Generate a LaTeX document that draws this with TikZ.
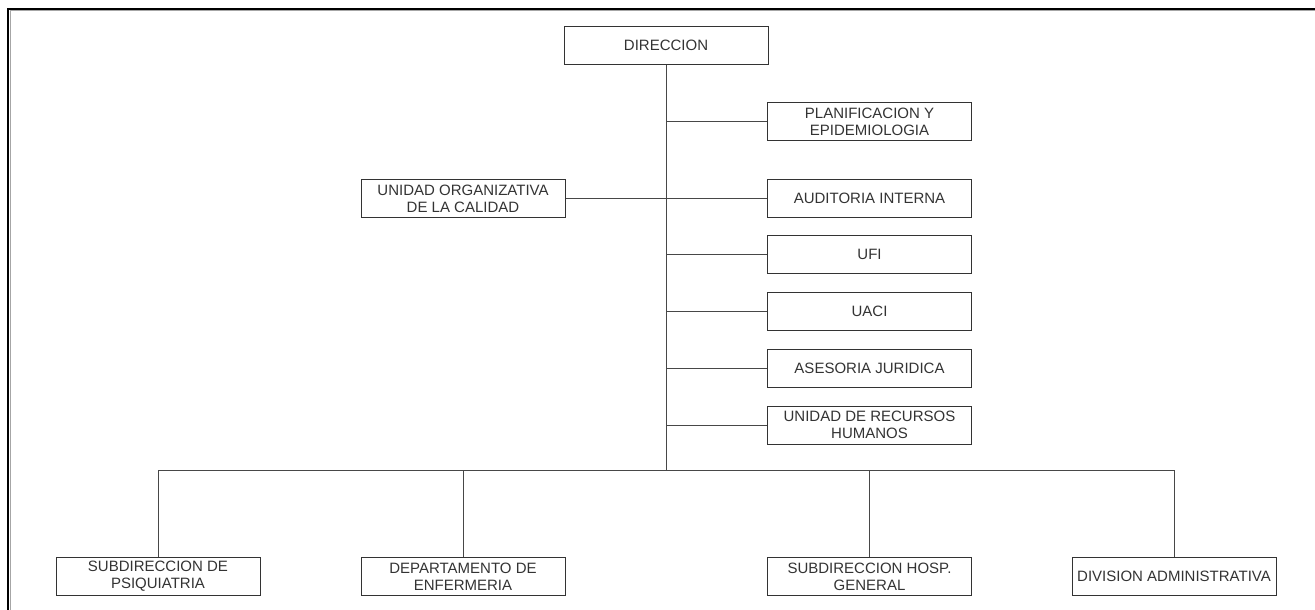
\documentclass[tikz,border=0pt]{standalone}
\usepackage{fontspec}
\setsansfont{Liberation Sans}
\usetikzlibrary{calc}
\definecolor{boxgray}{HTML}{333333}

\begin{document}
\begin{tikzpicture}[x = 1pt, y = -1pt, font=\sffamily\fontsize{15}{17}\selectfont]
	\tikzstyle{unitStyle} = [shape = rectangle, draw = boxgray, line width = 1pt, text = boxgray, minimum width = 204pt, minimum height = 38pt, inner sep = 2pt, align = center]
	\tikzstyle{linkStyle} = [draw = boxgray!90, line width = 1pt]
	\useasboundingbox (0,0) rectangle (1315,610);
	% frame
	\draw[gray!70, line width = 1pt] (10.5,610) -- (10.5,10.5) -- (1315,10.5);
	\draw[line width = 2pt] (8,610) -- (8,9) -- (1315,9);
	% units
	\node[unitStyle] (dir) at (666,45.5) {DIRECCION};
	\node[unitStyle] (plan) at (869.5,121.5) {PLANIFICACION Y\\EPIDEMIOLOGIA};
	\node[unitStyle] (calidad) at (463,198.5) {UNIDAD ORGANIZATIVA\\DE LA CALIDAD};
	\node[unitStyle] (audit) at (869.5,198.5) {AUDITORIA INTERNA};
	\node[unitStyle] (ufi) at (869.5,254.5) {UFI};
	\node[unitStyle] (uaci) at (869.5,311.5) {UACI};
	\node[unitStyle] (jur) at (869.5,368.5) {ASESORIA JURIDICA};
	\node[unitStyle] (rrhh) at (869.5,425) {UNIDAD DE RECURSOS\\HUMANOS};
	\node[unitStyle] (psiq) at (158,576.5) {SUBDIRECCION DE\\PSIQUIATRIA};
	\node[unitStyle] (enf) at (463,576.5) {DEPARTAMENTO DE\\ENFERMERIA};
	\node[unitStyle] (hosp) at (869.5,576.5) {SUBDIRECCION HOSP.\\GENERAL};
	\node[unitStyle] (divadm) at (1174,576.5) {DIVISION ADMINISTRATIVA};
	\coordinate (bus) at (666,470);
	% links
	\draw[linkStyle] (dir.south) -- (bus);
	\foreach \u in {plan, audit, ufi, uaci, jur, rrhh}
		\draw[linkStyle] (\u.west) -- (\u.west -| dir.south);
	\draw[linkStyle] (calidad.east) -- (calidad.east -| dir.south);
	\draw[linkStyle] (psiq.north |- bus) -- (divadm.north |- bus);
	\foreach \u in {psiq, enf, hosp, divadm}
		\draw[linkStyle] (\u.north) -- (\u.north |- bus);
\end{tikzpicture}
\end{document}
